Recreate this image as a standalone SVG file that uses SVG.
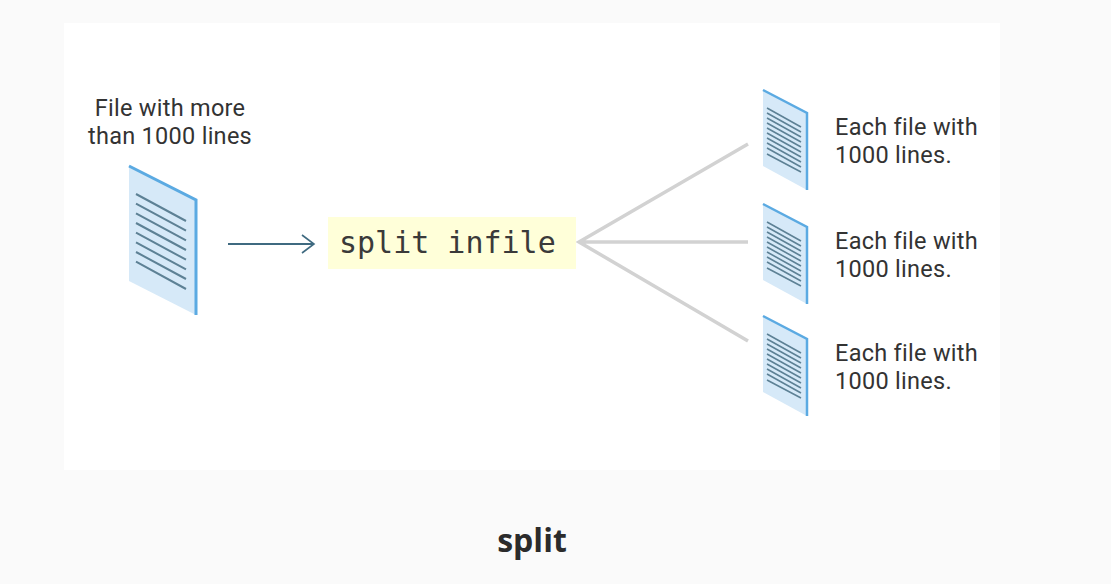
<svg xmlns="http://www.w3.org/2000/svg" width="1111" height="584" viewBox="0 0 1111 584">
<style>
.t{font-family:Roboto,"Noto Sans",sans-serif;font-size:23.5px;letter-spacing:.28px;fill:#333}
.m{font-family:"DejaVu Sans Mono","Liberation Mono",monospace;font-size:30px;fill:#3a3a3a}
.c{font-family:"Open Sans","Noto Sans",sans-serif;font-size:32px;font-weight:700;fill:#2b2b2b}
.pg{fill:#d6e9f8}
.e{fill:none;stroke:#5baae2;stroke-width:2.5}
.l{stroke:#5d8195;stroke-width:1.6}
.g{stroke:#d2d2d2;stroke-width:3.5;fill:none}
</style>
<defs>
<g id="small">
<polygon class="pg" points="763,90 807,113 807,190 763,166"/>
<path class="e" d="M763,90 L807,113 L807,190"/>
<path class="l" d="M767,108L801,127M767,113L801,132M767,118L801,137M767,123L801,142M767,128L801,147M767,133L801,152M767,138L801,157M767,143L801,162M767,148L801,167M767,154L801,172"/>
</g>
</defs>
<rect width="1111" height="584" fill="#fafafa"/>
<rect x="64" y="23" width="936" height="447" fill="#fff"/>
<g id="connectors">
<path d="M228,244H313" stroke="#3f6a80" stroke-width="2" fill="none"/>
<path d="M302,235L314,244L302,253" stroke="#3f6a80" stroke-width="1.6" fill="none"/>
<path class="g" d="M748,144L579,242L748,341M579,242H748"/>
</g>
<g id="source">
<text class="t" text-anchor="middle" x="170" y="116">File with more</text>
<text class="t" text-anchor="middle" x="170" y="144">than 1000 lines</text>
<polygon class="pg" points="129,166 196,200 196,315 129,281"/>
<path d="M129,166 L196,200 L196,315" fill="none" stroke="#5baae2" stroke-width="3"/>
<path class="l" style="stroke-width:2" d="M136,194L186,221M136,203.700L186,230.700M136,213.400L186,240.400M136,223L186,250M136,232.700L186,259.700M136,242.400L186,269.400M136,252L186,279M136,261.700L186,289"/>
</g>
<g id="command">
<rect x="328" y="217" width="248" height="52" fill="#ffffd9"/>
<text class="m" x="339" y="253">split infile</text>
</g>
<g id="out1"><use href="#small"/>
<text class="t" x="835" y="135">Each file with</text><text class="t" x="835" y="163">1000 lines.</text></g>
<g id="out2"><use href="#small" y="114"/>
<text class="t" x="835" y="249">Each file with</text><text class="t" x="835" y="277">1000 lines.</text></g>
<g id="out3"><use href="#small" y="226"/>
<text class="t" x="835" y="361">Each file with</text><text class="t" x="835" y="389">1000 lines.</text></g>
<text id="caption" class="c" text-anchor="middle" x="532" y="552">split</text>
</svg>
